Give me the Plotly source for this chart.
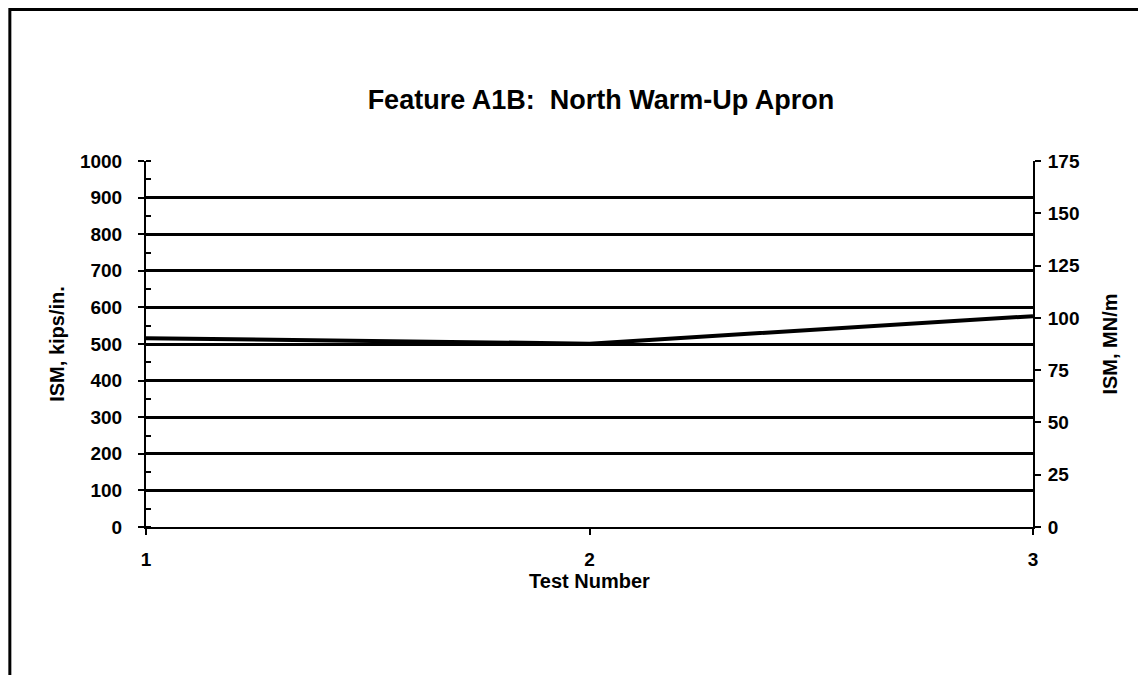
import plotly.graph_objects as go

# Data
test_number = [1, 2, 3]
ism_kips = [516, 501, 576]
KIPS_PER_MN = 5.71  # 1 MN/m ~ 5.71 kips/in.
ism_mn = [v / KIPS_PER_MN for v in ism_kips]

left_ticks = [0, 100, 200, 300, 400, 500, 600, 700, 800, 900, 1000]
right_ticks = [0, 25, 50, 75, 100, 125, 150, 175]

FONT = "Arial, Liberation Sans, sans-serif"

fig = go.Figure()

fig.add_trace(go.Scatter(
    x=test_number, y=ism_kips,
    mode="lines",
    line=dict(color="black", width=4),
    showlegend=False,
))

# invisible companion trace so the MN/m axis is drawn
fig.add_trace(go.Scatter(
    x=test_number, y=ism_mn,
    mode="lines", yaxis="y2",
    line=dict(color="rgba(0,0,0,0)"),
    hoverinfo="skip", showlegend=False,
))

fig.update_layout(
    width=1138, height=667,
    paper_bgcolor="white", plot_bgcolor="white",
    margin=dict(l=138, r=113, t=153, b=148),
    font=dict(family=FONT, color="black"),
    title=dict(
        text="<b>Feature A1B:  North Warm-Up Apron</b>",
        x=0.521, xanchor="center", y=0.862, yanchor="middle",
        font=dict(size=27, family=FONT),
    ),
    xaxis=dict(
        range=[1, 3], tickvals=test_number,
        ticktext=[f"<b>{v}</b>" for v in test_number],
        showgrid=False, zeroline=False,
        showline=True, linecolor="black", linewidth=2,
        ticks="outside", ticklen=6, tickwidth=2, tickcolor="black",
        tickfont=dict(size=19, family=FONT), ticklabelstandoff=8,
        title=dict(text="<b>Test Number</b>", font=dict(size=20), standoff=2),
    ),
    yaxis=dict(
        range=[0, 1000], tickvals=left_ticks,
        ticktext=[f"<b>{v}</b>" for v in left_ticks],
        showgrid=True, gridcolor="black", gridwidth=2.5,
        zeroline=False,
        showline=True, linecolor="black", linewidth=2,
        ticks="outside", ticklen=6, tickwidth=2, tickcolor="black",
        tickfont=dict(size=19, family=FONT), ticklabelstandoff=12,
        minor=dict(dtick=50, ticks="inside", ticklen=5, tickwidth=1.5,
                   tickcolor="black", showgrid=False),
        title=dict(text="<b>ISM, kips/in.</b>", font=dict(size=20), standoff=10),
    ),
    yaxis2=dict(
        range=[0, 175], tickvals=right_ticks,
        ticktext=[f"<b>{v}</b>" for v in right_ticks],
        overlaying="y", side="right",
        showgrid=False, zeroline=False,
        showline=True, linecolor="black", linewidth=2,
        ticks="outside", ticklen=6, tickwidth=2, tickcolor="black",
        tickfont=dict(size=19, family=FONT), ticklabelstandoff=3,
        title=dict(text="<b>ISM, MN/m</b>", font=dict(size=20), standoff=24),
    ),
)

# outer frame of the original figure (runs off the right and bottom edges)
fig.add_shape(
    type="rect", xref="paper", yref="paper",
    x0=-0.1535, x1=1.2, y0=-0.5, y1=1.414,
    line=dict(color="black", width=3), layer="below",
)

fig.write_html("out.html")
